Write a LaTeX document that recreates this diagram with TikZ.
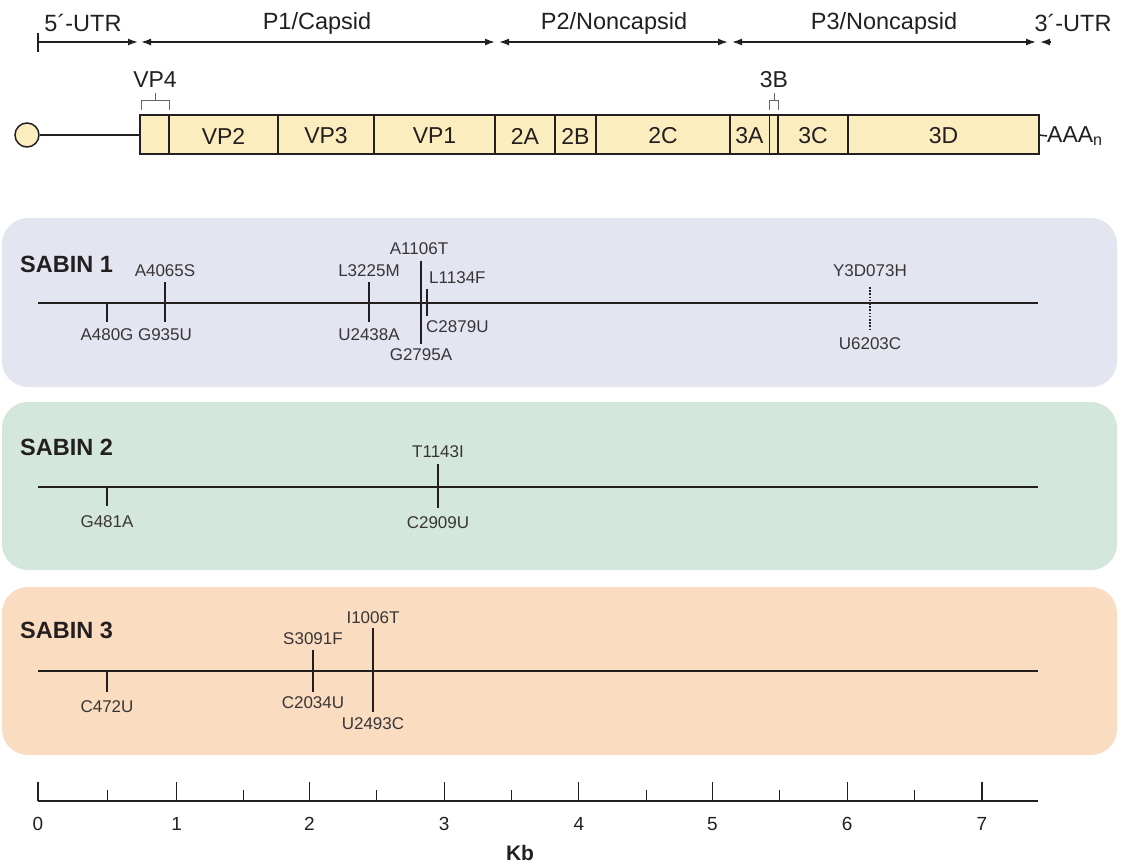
\documentclass[tikz,border=0pt]{standalone}
\usepackage{fontspec}
\setmainfont{Liberation Sans}
\usetikzlibrary{positioning, arrows.meta}
\definecolor{barfill}{HTML}{FCEDBE}
\definecolor{pone}{HTML}{E3E5F0}
\definecolor{ptwo}{HTML}{D3E7DC}
\definecolor{pthree}{HTML}{FADDC1}
\definecolor{ink}{HTML}{231F20}

\begin{document}
\begin{tikzpicture}[x=1pt,y=-1pt,
	head/.style={font=\fontsize{23.5}{26}\selectfont, inner sep=0pt, text=ink},
	seg/.style={font=\fontsize{23}{25}\selectfont, inner sep=0pt, text=ink},
	mut/.style={font=\fontsize{17}{19}\selectfont, inner sep=0pt, text=ink!90},
	sabin/.style={font=\bfseries\fontsize{23.5}{26}\selectfont, inner sep=0pt, anchor=west, text=ink},
	num/.style={font=\fontsize{19}{21}\selectfont, inner sep=0pt, text=ink},
	panel/.style={rounded corners=26pt, draw=none},
	genome/.style={line width=2.2pt, draw=ink},
	thintick/.style={line width=1.2pt, draw=ink},
	thicktick/.style={line width=2.2pt, draw=ink},
	brace/.style={line width=1pt, draw=black!60},
	region/.style={line width=1.5pt, draw=ink},
	tip/.tip={Latex[length=10pt,width=7pt]}
	]

	\useasboundingbox (0,0) rectangle (1125,865);

	% regions above the genome
	\coordinate (utrl) at (38,42);
	\coordinate (utrr) at (138,42);
	\coordinate (ponel) at (141,42);
	\coordinate (poner) at (495,42);
	\coordinate (ptwol) at (499,42);
	\coordinate (ptwor) at (728,42);
	\coordinate (pthreel) at (732,42);
	\coordinate (pthreer) at (1036,42);
	\coordinate (utrtip) at (1040,42);
	\coordinate (utrend) at (1051,42);

	\node (utrfive) [head] at (83,23) {5´-UTR};
	\node (capsid) [head] at (317,23) {P1/Capsid};
	\node (noncapa) [head] at (614,23) {P2/Noncapsid};
	\node (noncapb) [head] at (884,23) {P3/Noncapsid};
	\node (utrthree) [head] at (1073,23) {3´-UTR};

	\draw [region] (38,33) -- (38,52);
	\draw [region, -tip] (utrl) -- (utrr);
	\draw [region, tip-tip] (ponel) -- (poner);
	\draw [region, tip-tip] (ptwol) -- (ptwor);
	\draw [region, tip-tip] (pthreel) -- (pthreer);
	\draw [region, -tip] (utrend) -- (utrtip);

	% genome
	\node (cap) [circle, draw=ink, line width=1.5pt, fill=barfill, minimum size=24pt, inner sep=0pt] at (27,135) {};
	\coordinate (barw) at (140,135);
	\draw [region] (cap) -- (barw);
	\draw [region, fill=barfill] (140,115) rectangle (1039,154);
	\draw [region] (169,115) -- (169,154);
	\draw [region] (278,115) -- (278,154);
	\draw [region] (374,115) -- (374,154);
	\draw [region] (495,115) -- (495,154);
	\draw [region] (555,115) -- (555,154);
	\draw [region] (596,115) -- (596,154);
	\draw [region] (730,115) -- (730,154);
	\draw [region] (769.5,115) -- (769.5,154);
	\draw [region] (778,115) -- (778,154);
	\draw [region] (848,115) -- (848,154);

	\node (vptwo) [seg] at (223.5,136) {VP2};
	\node (vpthree) [seg] at (326,136) {VP3};
	\node (vpone) [seg] at (434.5,136) {VP1};
	\node (twoa) [seg] at (525,136) {2A};
	\node (twob) [seg] at (575.5,136) {2B};
	\node (twoc) [seg] at (663,136) {2C};
	\node (threea) [seg] at (749.5,136) {3A};
	\node (threec) [seg] at (813,136) {3C};
	\node (threed) [seg] at (943.5,136) {3D};

	\node (vpfour) [seg] at (155,80) {VP4};
	\draw [brace] (141,110) -- (141,100) -- (169,100) -- (169,110);
	\draw [brace] (155,100) -- (155,93);
	\node (threeb) [seg] at (774,80) {3B};
	\draw [brace] (769.5,110) -- (769.5,100) -- (778.5,100) -- (778.5,110);
	\draw [brace] (774,100) -- (774,93);

	\coordinate (bare) at (1039,135);
	\node (polya) [seg, anchor=west] at (1047,136) {AAA\textsubscript{n}};
	\draw [region] (bare) -- (polya.west);

	% panels
	\fill [panel, pone] (2,218) rectangle (1117,387);
	\fill [panel, ptwo] (2,402) rectangle (1117,570);
	\fill [panel, pthree] (2,587) rectangle (1117,755);

	% Sabin 1
	\node (sabone) [sabin] at (20,264) {SABIN 1};
	\coordinate (sonel) at (38,303);
	\coordinate (soner) at (1038,303);
	\draw [genome] (sonel) -- (soner);
	\draw [thintick] (107,303) -- (107,322);
	\draw [thicktick] (165,282) -- (165,322);
	\draw [thicktick] (369,282) -- (369,322);
	\draw [thintick] (421,261) -- (421,344);
	\draw [thicktick] (427,289) -- (427,316);
	\draw [line width=1.6pt, draw=ink, dash pattern=on 1.6pt off 1.6pt] (870,287) -- (870,330);
	\node (aonea) [mut] at (165,271) {A4065S};
	\node (aoneb) [mut] at (107,335) {A480G};
	\node (aonec) [mut] at (165,335) {G935U};
	\node (aoned) [mut] at (369,271) {L3225M};
	\node (aonee) [mut] at (369,335) {U2438A};
	\node (aonef) [mut] at (419,249) {A1106T};
	\node (aoneg) [mut] at (421,355) {G2795A};
	\node (aoneh) [mut, anchor=west] at (429,278) {L1134F};
	\node (aonei) [mut, anchor=west] at (426,327) {C2879U};
	\node (aonej) [mut] at (870,271) {Y3D073H};
	\node (aonek) [mut] at (870,344) {U6203C};

	% Sabin 2
	\node (sabtwo) [sabin] at (20,447) {SABIN 2};
	\coordinate (stwol) at (38,487);
	\coordinate (stwor) at (1038,487);
	\draw [genome] (stwol) -- (stwor);
	\draw [thintick] (107,487) -- (107,506);
	\draw [thicktick] (438,464) -- (438,508);
	\node (atwoa) [mut] at (107,522) {G481A};
	\node (atwob) [mut] at (438,452) {T1143I};
	\node (atwoc) [mut] at (438,523) {C2909U};

	% Sabin 3
	\node (sabthree) [sabin] at (20,630) {SABIN 3};
	\coordinate (sthreel) at (38,671);
	\coordinate (sthreer) at (1038,671);
	\draw [genome] (sthreel) -- (sthreer);
	\draw [thintick] (107,671) -- (107,692);
	\draw [thicktick] (313,650) -- (313,692);
	\draw [thicktick] (373,628) -- (373,712);
	\node (athreea) [mut] at (107,707) {C472U};
	\node (athreeb) [mut] at (313,639) {S3091F};
	\node (athreec) [mut] at (313,703) {C2034U};
	\node (athreed) [mut] at (373,618) {I1006T};
	\node (athreee) [mut] at (373,724) {U2493C};

	% scale
	\coordinate (axl) at (38,801);
	\coordinate (axr) at (1038,801);
	\draw [genome] (axl) -- (axr);
	\draw [thintick] (38,782) -- (38,801);
	\draw [thintick] (107.4,790) -- (107.4,801);
	\draw [thintick] (176.7,782) -- (176.7,801);
	\draw [thintick] (243.1,790) -- (243.1,801);
	\draw [thintick] (309.4,782) -- (309.4,801);
	\draw [thintick] (376.7,790) -- (376.7,801);
	\draw [thintick] (444.1,782) -- (444.1,801);
	\draw [thintick] (511.4,790) -- (511.4,801);
	\draw [thintick] (578.8,782) -- (578.8,801);
	\draw [thintick] (646.1,790) -- (646.1,801);
	\draw [thintick] (712.5,782) -- (712.5,801);
	\draw [thintick] (779.8,790) -- (779.8,801);
	\draw [thintick] (847.2,782) -- (847.2,801);
	\draw [thintick] (914.5,790) -- (914.5,801);
	\draw [thintick] (981.9,782) -- (981.9,801);

	\node (nzero) [num] at (38,824) {0};
	\node (none) [num] at (176.7,824) {1};
	\node (ntwo) [num] at (309.4,824) {2};
	\node (nthree) [num] at (444.1,824) {3};
	\node (nfour) [num] at (578.8,824) {4};
	\node (nfive) [num] at (712.5,824) {5};
	\node (nsix) [num] at (847.2,824) {6};
	\node (nseven) [num] at (981.9,824) {7};
	\node (kb) [num, font=\bfseries\fontsize{21}{23}\selectfont] at (520,853) {Kb};

\end{tikzpicture}
\end{document}
